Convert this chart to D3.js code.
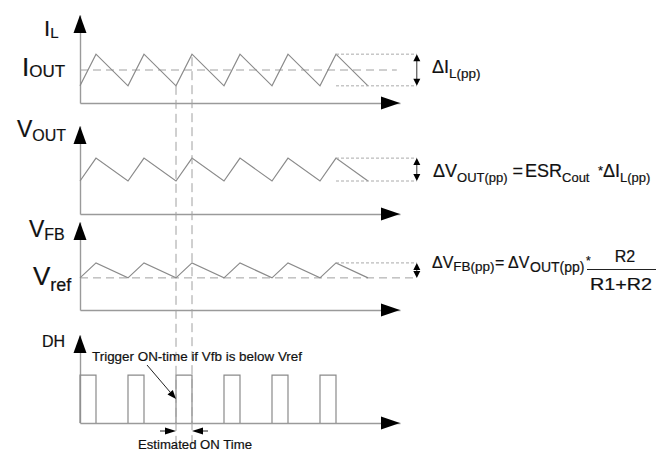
<!DOCTYPE html>
<html><head><meta charset="utf-8">
<script src="https://cdn.jsdelivr.net/npm/d3@7"></script>
<style>
body{margin:0;background:#fff}
text{font-family:"Liberation Sans",Arial,sans-serif;fill:#111;stroke:#111;stroke-width:0.2}
</style>
</head><body><svg id="c" width="668" height="451"></svg>
<script>
// ---- data (time in switching sub-intervals, levels in panel units 0..10) ----
const vertexT = [0,1,3,4,6,7,9,10,12,13,15,16,18];
const iL   = [1.95,5.55,1.95,5.55,1.95,5.55,1.95,5.55,1.95,5.55,1.95,5.55,1.95];
const vOut = [3.75,6.35,3.75,6.35,3.75,6.35,3.75,6.35,3.75,6.35,3.75,6.35,3.75];
const vFb  = [3.65,5.35,3.65,5.35,3.65,5.35,3.65,5.35,3.65,5.35,3.65,5.35,3.65];
const iOutLevel = 3.75;
const vRefLevel = 3.65;
const dhOnStart = [0,3,6,9,12,15];
const dhOnEnd   = [1,4,7,10,13,16];
const dhHigh = 5.45;
const markerT = [6,7];           // trigger instant, end of estimated on-time
const rangeStartT = 16;          // where the peak-to-peak guides start
const rangeT = 21.05;            // where the peak-to-peak double arrows sit

// ---- layout ----
const svg = d3.select('#c');
const x = d3.scaleLinear().domain([0,20]).range([80,400]);
const baselines = [103,214,310,423];
const panelH = 88;
const ys = baselines.map(b => d3.scaleLinear().domain([0,10]).range([b, b - panelH]));
const waveColor = '#8a8a8a', axisColor = '#9a9a9a', dashColor = '#a0a0a0';

// axes with arrowheads
baselines.forEach((b,i) => {
  const gx = svg.append('g').attr('transform',`translate(0,${b})`)
    .call(d3.axisBottom(x).tickValues([]).tickSizeOuter(0));
  gx.select('.domain').attr('stroke',axisColor).attr('stroke-width',1.4);
  const gy = svg.append('g').attr('transform',`translate(${x(0)},0)`)
    .call(d3.axisLeft(ys[i]).tickValues([]).tickSizeOuter(0));
  gy.select('.domain').attr('stroke',axisColor).attr('stroke-width',1.4);
  const xe = x(20), yt = ys[i](10);
  svg.append('path').attr('d',`M${xe},${b}L${xe-19},${b-6.5}L${xe-19},${b+6.5}Z`).attr('fill','#000');
  svg.append('path').attr('d',`M${x(0)},${yt}L${x(0)-6.5},${yt+18}L${x(0)+6.5},${yt+18}Z`).attr('fill','#000');
});

// reference dashed levels
svg.append('line').attr('x1',x(0)).attr('x2',x(19.8)).attr('y1',ys[0](iOutLevel)).attr('y2',ys[0](iOutLevel))
  .attr('stroke',dashColor).attr('stroke-dasharray','8,5');
svg.append('line').attr('x1',x(0)).attr('x2',x(rangeT)).attr('y1',ys[2](vRefLevel)).attr('y2',ys[2](vRefLevel))
  .attr('stroke',dashColor).attr('stroke-dasharray','8,5');

// waveforms
const series = [iL, vOut, vFb];
series.forEach((s,i) => {
  const line = d3.line().x((d,k) => x(vertexT[k])).y(d => ys[i](d));
  svg.append('path').attr('d',line(s)).attr('fill','none').attr('stroke',waveColor).attr('stroke-width',1.2);
});
// DH pulses
dhOnStart.forEach((s,k) => {
  const e = dhOnEnd[k], y0 = ys[3](0), y1 = ys[3](dhHigh);
  svg.append('path').attr('d',`M${x(s)},${y0}L${x(s)},${y1}L${x(e)},${y1}L${x(e)},${y0}`)
    .attr('fill','none').attr('stroke',waveColor).attr('stroke-width',1.2);
});

// peak-to-peak guides + double arrows
function doubleArrow(xp, ya, yb){
  svg.append('line').attr('x1',xp).attr('x2',xp).attr('y1',ya+3).attr('y2',yb-3).attr('stroke','#333').attr('stroke-width',1);
  svg.append('path').attr('d',`M${xp},${ya}L${xp-3.5},${ya+7}L${xp+3.5},${ya+7}Z`).attr('fill','#000');
  svg.append('path').attr('d',`M${xp},${yb}L${xp-3.5},${yb-7}L${xp+3.5},${yb-7}Z`).attr('fill','#000');
}
[[iL,0],[vOut,1],[vFb,2]].forEach(([s,i]) => {
  const hi = d3.max(s), lo = d3.min(s);
  svg.append('line').attr('x1',x(rangeStartT)).attr('x2',x(rangeT)).attr('y1',ys[i](hi)).attr('y2',ys[i](hi))
    .attr('stroke','#aaa').attr('stroke-dasharray','3,2');
  if (i < 2) svg.append('line').attr('x1',x(rangeStartT)).attr('x2',x(rangeT)).attr('y1',ys[i](lo)).attr('y2',ys[i](lo))
    .attr('stroke','#aaa').attr('stroke-dasharray','3,2');
  doubleArrow(x(rangeT), ys[i](hi), ys[i](lo));
});

// vertical timing markers
svg.append('line').attr('x1',x(markerT[0])).attr('x2',x(markerT[0])).attr('y1',ys[0](d3.min(iL))).attr('y2',447)
  .attr('stroke',dashColor).attr('stroke-dasharray','9,5');
svg.append('line').attr('x1',x(markerT[1])).attr('x2',x(markerT[1])).attr('y1',ys[0](d3.max(iL))+3).attr('y2',447)
  .attr('stroke',dashColor).attr('stroke-dasharray','9,5');

// arrows
function arrow(x1,y1,x2,y2,len,hw){
  const a = Math.atan2(y2-y1,x2-x1), c = Math.cos(a), s = Math.sin(a);
  const bx = x2 - c*len, by = y2 - s*len;
  svg.append('line').attr('x1',x1).attr('y1',y1).attr('x2',bx).attr('y2',by).attr('stroke','#222').attr('stroke-width',1);
  svg.append('path').attr('d',`M${x2},${y2}L${bx - s*hw},${by + c*hw}L${bx + s*hw},${by - c*hw}Z`).attr('fill','#000');
}
arrow(147,365,x(markerT[0]),399,9,3.5);
arrow(160,431,x(markerT[0]),431,11,3.5);
arrow(208,431,x(markerT[1]),431,11,3.5);

// ---- text ----
function label(x0, parts){
  const t = svg.append('text').attr('x',x0);
  parts.forEach(p => {
    const ts = t.append('tspan').text(p[0]).attr('font-size',p[1]).attr('y',p[2]);
    if (p[3] !== undefined) ts.attr('x',p[3]);
  });
  return t;
}
label(44, [['I',22,36],['L',15,38]]);
label(22, [['I',26,76],['OUT',17,76.5]]);
label(17, [['V',23,137],['OUT',16,141]]);
label(29, [['V',23,237],['FB',16,240]]);
label(33, [['V',26,285],['ref',18,291]]);
label(42, [['DH',16,347]]);
svg.append('text').attr('x',92).attr('y',361).attr('font-size',13)
  .attr('textLength',210).attr('lengthAdjust','spacingAndGlyphs').text('Trigger ON-time if Vfb is below Vref');
svg.append('text').attr('x',138).attr('y',449).attr('font-size',13)
  .attr('textLength',114).attr('lengthAdjust','spacingAndGlyphs').text('Estimated ON Time');

label(432, [['ΔI',18,73],['L(pp)',13.5,78]]);
label(433, [['ΔV',18,177],['OUT(pp)',13,182],['=',18,177,512.5],['ESR',18,177,525],['Cout',13,182],
            ['*',13,175,598],['ΔI',18,177,603],['L(pp)',13,182]]);
label(432, [['ΔV',16,268],['FB(pp)',13.5,271],['=',16,268,495],['ΔV',16,268,508],['OUT(pp)',14,272,530],['*',12,265,586]]);
svg.append('text').attr('x',625).attr('y',262).attr('font-size',16).attr('text-anchor','middle').text('R2');
svg.append('line').attr('x1',587).attr('x2',656).attr('y1',269.5).attr('y2',269.5).attr('stroke','#222').attr('stroke-width',1);
svg.append('text').attr('x',590).attr('y',290).attr('font-size',16)
  .attr('textLength',62).attr('lengthAdjust','spacingAndGlyphs').text('R1+R2');
</script>
</body></html>
